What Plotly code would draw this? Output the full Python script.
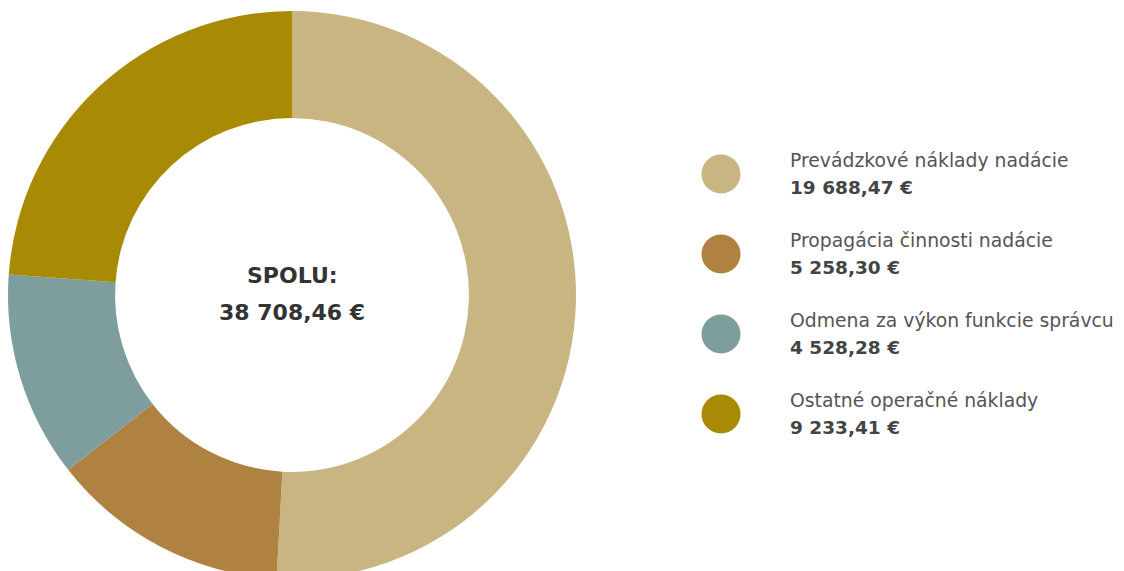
"""Donut chart of foundation operating costs with a custom legend."""

import plotly.graph_objects as go

labels = [
    "Prevádzkové náklady nadácie",
    "Propagácia činnosti nadácie",
    "Odmena za výkon funkcie správcu",
    "Ostatné operačné náklady",
]
values = [19688.47, 5258.30, 4528.28, 9233.41]
value_texts = ["19 688,47 €", "5 258,30 €", "4 528,28 €", "9 233,41 €"]
colors = ["#C8B582", "#B08242", "#7E9D9D", "#A88A04"]
total_label = "SPOLU:"
total_text = "38 708,46 €"

W, H = 1124, 590
FONT = "'DejaVu Sans', sans-serif"

fig = go.Figure()

# Donut
fig.add_trace(
    go.Pie(
        labels=labels,
        values=values,
        marker={"colors": colors, "line": {"color": "white", "width": 0}},
        hole=0.623,
        sort=False,
        direction="clockwise",
        rotation=0,
        textinfo="none",
        hoverinfo="label+value",
        showlegend=False,
        domain={"x": [8 / W, 576 / W], "y": [1 - 579 / H, 1 - 11 / H]},
    )
)

# Legend markers drawn on a hidden axis (1 y-unit = 80 px)
idx = list(range(len(labels)))
fig.add_trace(
    go.Scatter(
        x=[0] * len(labels),
        y=idx,
        mode="markers",
        marker={"size": 39, "color": colors},
        hoverinfo="skip",
        showlegend=False,
    )
)

for i, (lab, val) in enumerate(zip(labels, value_texts)):
    fig.add_annotation(
        x=67, y=i - 0.175, xref="x", yref="y", text=lab,
        showarrow=False, xanchor="left", yanchor="middle",
        font={"family": FONT, "size": 18.8, "color": "#555"},
    )
    fig.add_annotation(
        x=67, y=i + 0.165, xref="x", yref="y", text=f"<b>{val}</b>",
        showarrow=False, xanchor="left", yanchor="middle",
        font={"family": FONT, "size": 18.5, "color": "#444"},
    )

# Centre total
for txt, ypx in [(total_label, 275), (total_text, 312)]:
    fig.add_annotation(
        x=292 / W, y=1 - ypx / H, xref="paper", yref="paper",
        text=f"<b>{txt}</b>", showarrow=False,
        xanchor="center", yanchor="middle",
        font={"family": FONT, "size": 22, "color": "#333"},
    )

fig.update_layout(
    width=W,
    height=H,
    margin={"t": 0, "l": 0, "r": 0, "b": 0},
    paper_bgcolor="white",
    plot_bgcolor="rgba(0,0,0,0)",
    xaxis={"range": [-721, W - 721], "visible": False, "fixedrange": True},
    yaxis={"range": [(H - 174) / 80, -174 / 80], "visible": False, "fixedrange": True},
    font={"family": FONT},
)

fig.write_html(
    "out.html",
    config={"displayModeBar": False},
    post_script="document.body.style.margin='0';document.body.style.overflow='hidden';",
)
